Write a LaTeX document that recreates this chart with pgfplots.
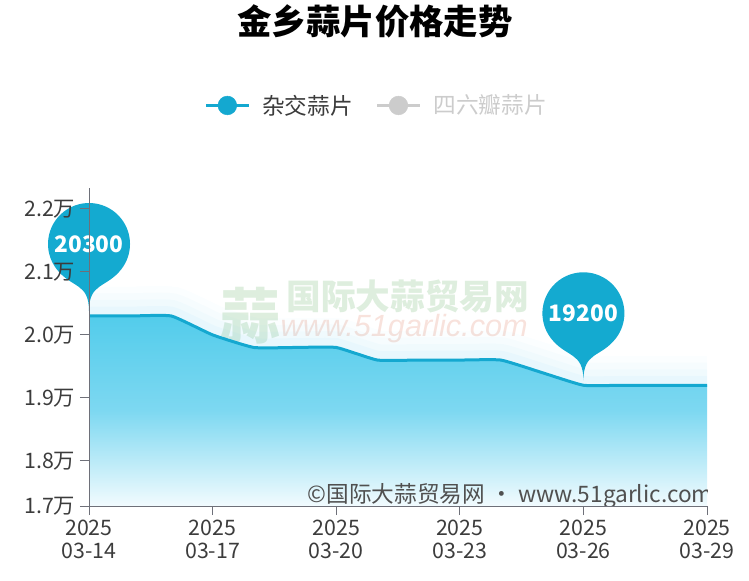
\documentclass[border=0pt]{standalone}
\usepackage{pgfplots}
\usepackage{pgfplotstable}
\pgfplotsset{compat=1.18}
\usepackage{fontspec}
\setmainfont{Noto Sans CJK SC}
\newfontfamily\latinfont{Liberation Sans}

\definecolor{linec}{RGB}{20,168,208}
\definecolor{pinc}{RGB}{20,170,208}
\definecolor{fillTop}{RGB}{82,204,235}
\definecolor{fillMid}{RGB}{125,216,241}
\definecolor{fillBot}{RGB}{242,251,254}
\definecolor{glowc}{RGB}{130,214,242}
\definecolor{axc}{RGB}{110,112,121}
\definecolor{labc}{RGB}{60,60,60}
\definecolor{offc}{RGB}{204,204,204}
\definecolor{wmgreen}{RGB}{222,238,222}
\definecolor{wmpink}{RGB}{248,226,220}

% map pin: tip just above the point, circle centred 54pt above it
\pgfdeclareplotmark{pin}{%
  \pgfpathmoveto{\pgfqpoint{-24.32pt}{35.18pt}}%
  \pgfpatharc{217.7}{-37.7}{30.75pt}%
  \pgfpathcurveto{\pgfqpoint{13.03pt}{20.59pt}}{\pgfqpoint{0pt}{25.27pt}}{\pgfqpoint{0pt}{3.75pt}}%
  \pgfpathcurveto{\pgfqpoint{0pt}{25.27pt}}{\pgfqpoint{-13.03pt}{20.59pt}}{\pgfqpoint{-24.32pt}{35.18pt}}%
  \pgfpathclose\pgfusepathqfill}

% day index 0 = 2025-03-14
\pgfplotstableread{
x y
0 20300
1 20300
2 20300
3 20000
4 19800
5 19800
6 19800
7 19600
8 19600
9 19600
10 19600
11 19400
12 19200
13 19200
14 19200
15 19200
}\pricedata

\begin{document}
\begin{tikzpicture}
\begin{axis}[
    set layers=axis on top,
    scale only axis,
    width=463.5pt, height=238.5pt,
    xmin=0, xmax=15,
    ymin=17280, ymax=22330,
    enlargelimits=false,
    axis lines*=left,
    axis line style={draw=axc, line width=0.75pt, -},
    tick style={draw=axc, line width=0.75pt},
    tick align=outside,
    major tick length=6.75pt,
    xtick={0,3,6,9,12,15},
    xticklabels={{2025\\03-14},{2025\\03-17},{2025\\03-20},{2025\\03-23},{2025\\03-26},{2025\\03-29}},
    xticklabel style={align=center, text=labc, font=\fontsize{16}{17.5}\selectfont},
    ytick={17280,18000,19000,20000,21000,22000},
    yticklabels={1.7万,1.8万,1.9万,2.0万,2.1万,2.2万},
    yticklabel style={text=labc, font=\fontsize{16}{17}\selectfont},
    scaled y ticks=false,
    title={金乡蒜片价格走势},
    title style={at={(0.463,1.5)}, anchor=center, font=\bfseries\fontsize{25.8}{26}\selectfont, text=black},
    legend style={at={(0.466,1.26)}, anchor=center, draw=none, fill=none,
        legend columns=2, font=\fontsize{17}{18}\selectfont,
        /tikz/every even column/.append style={column sep=15pt}},
    legend image code/.code={
        \draw[line width=2.25pt] (0pt,0pt) -- (32pt,0pt);
        \fill (16pt,0pt) circle (7pt);
        \path (40pt,0pt);},
]
\addlegendimage{color=linec}
\addlegendentry{\textcolor{labc}{杂交蒜片}}
\addlegendimage{color=offc}
\addlegendentry{\textcolor{offc}{四六瓣蒜片}}

\coordinate (O) at (rel axis cs:0,0);

% watermark
\node[text=wmgreen, font=\bfseries\fontsize{45}{45}\selectfont] at (rel axis cs:0.262,0.6) {蒜};
\node[text=wmgreen, font=\bfseries\fontsize{26}{26}\selectfont] at (rel axis cs:0.516,0.66) {国际大蒜贸易网};
\node[text=wmpink, font=\latinfont\itshape\fontsize{23}{23}\selectfont] at (rel axis cs:0.51,0.56) {www.51garlic.com};

% soft glow above the line
\addplot[forget plot, smooth, tension=0.25, color=glowc, line width=44pt, opacity=0.035] table {\pricedata};
\addplot[forget plot, smooth, tension=0.25, color=glowc, line width=34pt, opacity=0.04] table {\pricedata};
\addplot[forget plot, smooth, tension=0.25, color=glowc, line width=24pt, opacity=0.05] table {\pricedata};
\addplot[forget plot, smooth, tension=0.25, color=glowc, line width=14pt, opacity=0.07] table {\pricedata};

% area
\addplot[forget plot, draw=none, smooth, tension=0.25,
    top color=fillTop, bottom color=fillBot, middle color=fillMid]
    table {\pricedata} |- (axis cs:0,17280) -- cycle;

% line
\addplot[forget plot, smooth, tension=0.25, color=linec, line width=2.25pt] table {\pricedata};

\node[anchor=base east, inner sep=0pt, text=labc!90, font=\fontsize{17}{17}\selectfont]
    at (rel axis cs:1.01,0.012) {©国际大蒜贸易网 · www.51garlic.com};

% max / min pins
\addplot[forget plot, on layer=axis foreground, only marks, mark=pin, color=pinc,
    point meta=explicit symbolic, nodes near coords,
    nodes near coords style={anchor=center, yshift=54pt, text=white,
        font=\bfseries\fontsize{17}{17}\selectfont}]
    coordinates {(0,20300) [20300] (12,19200) [19200]};
\end{axis}
\path (O) ++(-66.75pt,-55.5pt) rectangle ++(561.75pt,431.25pt);
\end{tikzpicture}
\end{document}
